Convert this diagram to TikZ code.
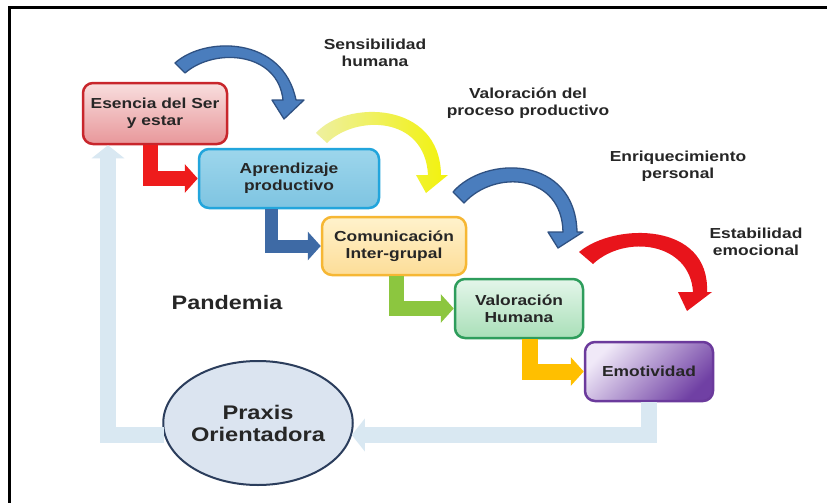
\documentclass[tikz,border=0pt]{standalone}
\usepackage{fontspec}
\setmainfont{Liberation Sans}[FakeStretch=1.2]
\usetikzlibrary{arrows.meta,calc,shapes.geometric}
\definecolor{esb}{HTML}{C8262C}\definecolor{est}{HTML}{F8DEDE}\definecolor{esf}{HTML}{E8979A}
\definecolor{apb}{HTML}{22A5DC}\definecolor{apt}{HTML}{9DD6EC}\definecolor{apf}{HTML}{7EC4E1}
\definecolor{cob}{HTML}{F6B734}\definecolor{cot}{HTML}{FFF2CC}\definecolor{cof}{HTML}{FDDD98}
\definecolor{vab}{HTML}{2E9D5C}\definecolor{vat}{HTML}{E4F6EA}\definecolor{vaf}{HTML}{A9DFB8}
\definecolor{emb}{HTML}{6B3A9C}\definecolor{emt}{HTML}{F0E9F8}\definecolor{emf}{HTML}{7040A4}
\definecolor{pxf}{HTML}{DBE4F0}\definecolor{pxb}{HTML}{2B3D5C}
\definecolor{stred}{HTML}{EE1C1C}\definecolor{stblue}{HTML}{3E6AA5}
\definecolor{stgreen}{HTML}{8CC63F}\definecolor{stamber}{HTML}{FFBF00}
\definecolor{retc}{HTML}{D9E8F2}
\definecolor{cblue}{HTML}{4A7DBD}\definecolor{cbluel}{HTML}{2F5182}
\definecolor{cyel}{HTML}{F2F20A}\definecolor{cyelp}{HTML}{EEF0A0}
\definecolor{cred}{HTML}{E8141B}
\definecolor{txt}{HTML}{262626}
\begin{document}
\begin{tikzpicture}[x=1pt,y=-1pt,
  box/.style={draw, rounded corners=10pt, line width=2.5pt, align=center,
    font=\fontsize{14.5}{17}\selectfont\bfseries, text=txt, inner sep=0pt},
  lab/.style={align=center, font=\fontsize{14.5}{17}\selectfont\bfseries, text=txt},
  stem/.style={line width=15pt, line join=miter, -{Triangle[width=28pt,length=13pt]}},
  ret/.style={retc, line width=16pt, line join=miter, -{Triangle[width=32pt,length=13pt]}},
  bluearc/.style={fill=cblue, draw=cbluel, line width=1.3pt, line join=round}]
\useasboundingbox (0,0) rectangle (827,503);
\fill[white] (0,0) rectangle (827,503);
\draw[line width=3pt] (9,503) -- (9,8) -- (827,8);

% boxes
\node[box, draw=esb, top color=est, bottom color=esf, minimum width=144pt, minimum height=61pt] (es) at (155,113.5) {Esencia del Ser\\y estar};
\node[box, draw=apb, top color=apt, bottom color=apf, minimum width=180pt, minimum height=59pt] (ap) at (289,178.5) {Aprendizaje\\productivo};
\node[box, draw=cob, top color=cot, bottom color=cof, minimum width=144pt, minimum height=58pt] (co) at (394,246) {Comunicación\\Inter-grupal};
\node[box, draw=vab, top color=vat, bottom color=vaf, minimum width=128pt, minimum height=59pt] (va) at (519,308.5) {Valoración\\Humana};
\node[box, draw=emb, shading=axis, left color=emt, right color=emf, shading angle=45, minimum width=128pt, minimum height=59pt] (em) at (649,371.5) {Emotividad};
\node[ellipse, draw=pxb, fill=pxf, line width=2pt, minimum width=188pt, minimum height=124pt, inner sep=0pt, align=center,
  font=\fontsize{19.7}{22}\selectfont\bfseries, text=txt] (px) at (258,423) {Praxis\\Orientadora};

% labels
\node[lab] (l1) at (375,53) {Sensibilidad\\humana};
\node[lab] (l2) at (528,103) {Valoración del\\proceso productivo};
\node[lab] (l3) at (678,166) {Enriquecimiento\\personal};
\node[lab] (l4) at (756,242) {Estabilidad\\emocional};
\node[lab, font=\fontsize{19.5}{22}\selectfont\bfseries] (pand) at (227,303) {Pandemia};

% bent step arrows
\draw[stem, stred] ([xshift=-5pt]es.south) |- (ap.west);
\draw[stem, stblue, line width=13pt] ([xshift=-18pt]ap.south) |- (co.west);
\draw[stem, stgreen] ([xshift=2pt]co.south) |- (va.west);
\draw[stem, stamber, line width=16pt] ([xshift=11pt]va.south) |- (em.west);

% return arrows
\coordinate (pxin) at ($(px.east)+(-2,12)$);
\coordinate (pxout) at ($(px.west)+(2,12)$);
\draw[ret] (em.south) |- (pxin);
\draw[ret] (pxout) -| ([xshift=-47pt]es.south);

% curved arrows (tapered, drawn as shapes)
\draw[bluearc] (175,63) .. controls (205,36) and (283,36) .. (296,100)
  -- (304,100) -- (284,119) -- (272,100) -- (283,100)
  .. controls (278,52) and (215,47) .. (185,73) -- cycle;
\shade[left color=cyelp, right color=cyel] (316,133) .. controls (345,100) and (440,100) .. (441,175)
  -- (448,175) -- (426,193) -- (416,175) -- (428,175)
  .. controls (425,115) and (355,115) .. (327,143) -- cycle;
\draw[bluearc] (453,192) .. controls (485,155) and (575,155) .. (577,232)
  -- (583,232) -- (558,248) -- (548,232) -- (563,232)
  .. controls (562,174) and (495,169) .. (464,203) -- cycle;
\fill[cred] (579,252) .. controls (615,222) and (710,222) .. (707,292)
  -- (712,292) -- (687,311) -- (678,292) -- (693,292)
  .. controls (690,242) and (625,234) .. (593,264) -- cycle;
\end{tikzpicture}
\end{document}
